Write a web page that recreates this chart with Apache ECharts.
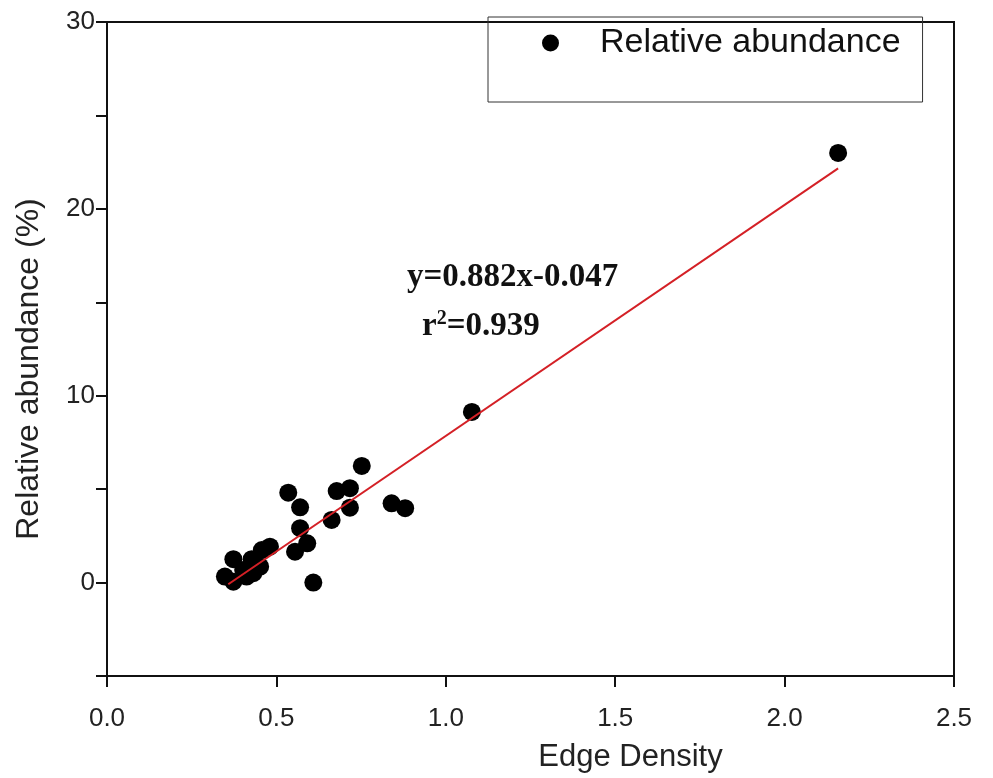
<!DOCTYPE html>
<html>
<head>
<meta charset="utf-8">
<script src="https://cdn.jsdelivr.net/npm/echarts@6/dist/echarts.min.js"></script>
<style>
  html, body { margin: 0; padding: 0; background: #fff; }
  #chart { width: 993px; height: 778px; }
</style>
</head>
<body>
<div id="chart"></div>
<script>
// values
const edgeDensity = [0.752, 0.535, 0.678, 0.717, 0.570, 0.717, 0.840, 0.880, 0.663, 0.570,
  0.591, 0.555, 0.609, 0.481, 0.457, 0.373, 0.427, 0.452, 0.348, 0.373,
  0.412, 0.432, 0.402, 1.077, 2.158];
const relAbundance = [6.24, 4.81, 4.90, 5.05, 4.03, 4.01, 4.24, 3.98, 3.35, 2.91,
  2.10, 1.65, 0.00, 1.92, 1.74, 1.25, 1.25, 0.85, 0.32, 0.05,
  0.32, 0.50, 0.67, 9.13, 22.99];
// fitted line as drawn (start and end)
const fitX = [0.358, 2.158];
const fitY = [-0.09, 22.17];

const points = edgeDensity.map((x, i) => [x, relAbundance[i]]);
const fitLine = fitX.map((x, i) => [x, fitY[i]]);

const chart = echarts.init(document.getElementById("chart"));

chart.setOption({
  animation: false,
  backgroundColor: "#fff",
  grid: {
    left: 107,
    right: 39,
    top: 22,
    bottom: 102,
    show: true,
    borderColor: "#111",
    borderWidth: 2,
  },
  legend: {
    data: ["Relative abundance"],
    left: 488,
    top: 17,
    orient: "vertical",
    borderColor: "#333",
    borderWidth: 1,
    padding: [9, 22, 42, 54],
    itemWidth: 17,
    itemHeight: 17,
    textStyle: {
      fontFamily: "Liberation Sans, Arial",
      fontSize: 34,
      color: "#111",
      padding: [0, 0, 0, 36],
    },
  },
  xAxis: {
    type: "value",
    min: 0,
    max: 2.5,
    interval: 0.5,
    name: "Edge Density",
    nameLocation: "middle",
    nameGap: 66,
    nameTextStyle: {
      fontFamily: "Liberation Sans, Arial",
      fontSize: 31,
      color: "#222",
      padding: [0, 0, 0, 200],
    },
    axisLine: { onZero: false, lineStyle: { color: "#111", width: 2 } },
    axisTick: { length: 11, lineStyle: { color: "#111", width: 2 } },
    axisLabel: {
      margin: 30,
      fontFamily: "Liberation Sans, Arial",
      fontSize: 26,
      color: "#222",
      formatter: (v) => v.toFixed(1),
    },
    splitLine: { show: false },
  },
  yAxis: {
    type: "value",
    min: -5,
    max: 30,
    interval: 5,
    name: "Relative abundance (%)",
    nameLocation: "middle",
    nameRotate: 90,
    nameGap: 62,
    nameTextStyle: {
      fontFamily: "Liberation Sans, Arial",
      fontSize: 32,
      color: "#222",
      padding: [0, 40, 0, 0],
    },
    axisLine: { lineStyle: { color: "#111", width: 2 } },
    axisTick: { length: 11, lineStyle: { color: "#111", width: 2 } },
    axisLabel: {
      margin: 12,
      fontFamily: "Liberation Sans, Arial",
      fontSize: 26,
      color: "#222",
      formatter: (v) => (v % 10 === 0 ? String(v) : ""),
    },
    splitLine: { show: false },
  },
  graphic: [
    {
      type: "text",
      left: 407,
      top: 261,
      style: {
        text: "y=0.882x-0.047",
        font: "bold 33px 'Liberation Serif', 'Times New Roman', serif",
        fill: "#111",
      },
    },
    {
      type: "text",
      left: 422,
      top: 309,
      style: {
        text: "{b|r}{s|2}{b|=0.939}",
        rich: {
          b: { font: "bold 33px 'Liberation Serif', 'Times New Roman', serif", fill: "#111", verticalAlign: "bottom" },
          s: { font: "bold 20px 'Liberation Serif', 'Times New Roman', serif", fill: "#111", verticalAlign: "top", padding: [0, 0, 14, 0] },
        },
      },
    },
  ],
  series: [
    {
      name: "Relative abundance",
      type: "scatter",
      data: points,
      symbol: "circle",
      symbolSize: 18,
      itemStyle: { color: "#000", opacity: 1 },
      z: 3,
    },
    {
      name: "fit",
      type: "line",
      data: fitLine,
      symbol: "none",
      lineStyle: { color: "#d42026", width: 2 },
      z: 4,
    },
  ],
});
</script>
</body>
</html>
